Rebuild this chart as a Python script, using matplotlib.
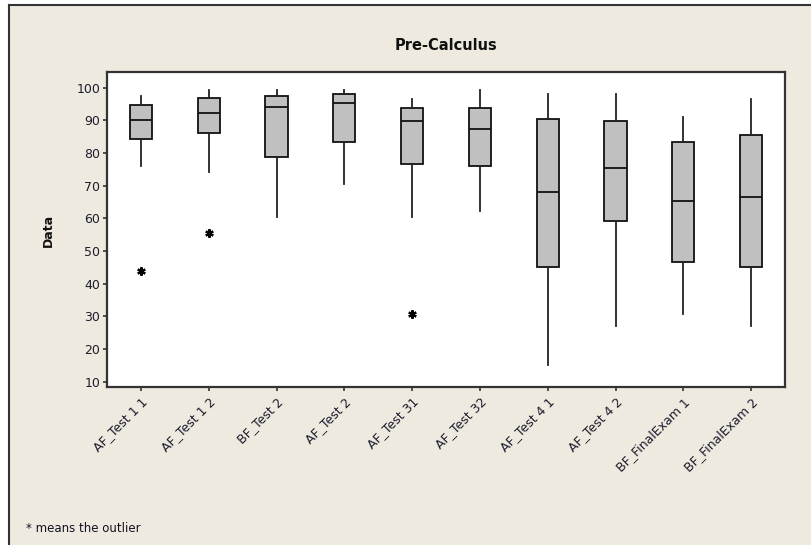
import numpy as np
import matplotlib
matplotlib.use("Agg")
import matplotlib.pyplot as plt
from matplotlib.patches import Rectangle
from matplotlib.lines import Line2D

# values
labels = ["AF_Test 1 1", "AF_Test 1 2", "BF_Test 2", "AF_Test 2", "AF_Test 31",
          "AF_Test 32", "AF_Test 4 1", "AF_Test 4 2", "BF_FinalExam 1", "BF_FinalExam 2"]
whis_lo = [75.9, 74.2, 60.4, 70.5, 60.4, 62.2, 15.1, 27.0, 30.6, 27.0]
q1      = [84.3, 86.2, 78.9, 83.3, 76.5, 76.0, 45.0, 59.2, 46.8, 45.0]
med     = [90.2, 92.2, 94.0, 95.2, 89.8, 87.4, 68.2, 75.5, 65.3, 66.5]
q3      = [94.6, 96.9, 97.6, 98.2, 93.9, 93.9, 90.3, 89.7, 83.3, 85.6]
whis_hi = [97.6, 99.4, 99.4, 99.4, 96.4, 99.4, 98.2, 98.2, 91.0, 96.4]
outliers = [[43.9], [55.4], [], [], [30.6], [], [], [], [], []]

bg = "#EEEAE0"
fig = plt.figure(figsize=(8.11, 5.45), dpi=100, facecolor="white")

# beige panel with dark top/left border like the screenshot
fig.patches.append(Rectangle((9 / 811, 0), 1, 1 - 5 / 545, transform=fig.transFigure,
                             facecolor=bg, edgecolor="none", zorder=-2))
fig.lines.append(Line2D([9 / 811, 1], [1 - 5 / 545] * 2, transform=fig.transFigure,
                        color="#333333", lw=1.5))
fig.lines.append(Line2D([9 / 811] * 2, [0, 1 - 5 / 545], transform=fig.transFigure,
                        color="#333333", lw=1.5))

ax = fig.add_axes([107 / 811, 1 - 387 / 545, (785 - 107) / 811, (387 - 72) / 545])
ax.set_facecolor("white")

stats = []
for i in range(len(labels)):
    stats.append(dict(label=labels[i], whislo=whis_lo[i], q1=q1[i], med=med[i],
                      q3=q3[i], whishi=whis_hi[i], fliers=np.array(outliers[i])))

ax.bxp(stats, positions=np.arange(1, 11), widths=0.33, patch_artist=True,
       showcaps=False,
       boxprops=dict(facecolor="#C0C0C0", edgecolor="#111111", linewidth=1.3),
       medianprops=dict(color="#111111", linewidth=1.3),
       whiskerprops=dict(color="#222222", linewidth=1.3),
       flierprops=dict(marker=(6, 2, 0), markersize=6, markeredgewidth=1.6,
                       markeredgecolor="black", markerfacecolor="black"))

ax.set_xlim(0.5, 10.5)
ax.set_ylim(8.4, 104.8)
ax.set_yticks(np.arange(10, 101, 10))
ax.set_xticks(np.arange(1, 11))
ax.set_xticklabels(labels, rotation=45, ha="right", rotation_mode="anchor",
                   fontsize=9, color="#1c1c2c")
ax.tick_params(axis="y", labelsize=9, labelcolor="#1c1c2c", length=3, width=1.2,
               color="#333333", direction="out", pad=2)
ax.tick_params(axis="x", length=3, width=1.2, color="#333333", direction="out", pad=3)
for s in ax.spines.values():
    s.set_color("#333333")
    s.set_linewidth(1.6)

fig.text(446 / 811, 1 - 45 / 545, "Pre-Calculus", ha="center", va="center",
         fontsize=10.5, fontweight="bold", color="#111111")
fig.text(48 / 811, 1 - 230 / 545, "Data", ha="center", va="center", rotation=90,
         fontsize=9, fontweight="bold", color="#111111")
fig.text(26 / 811, 1 - 528 / 545, "* means the outlier", ha="left", va="center",
         fontsize=8.5, color="#111122")

fig.savefig("out.png", dpi=100, facecolor=fig.get_facecolor())
